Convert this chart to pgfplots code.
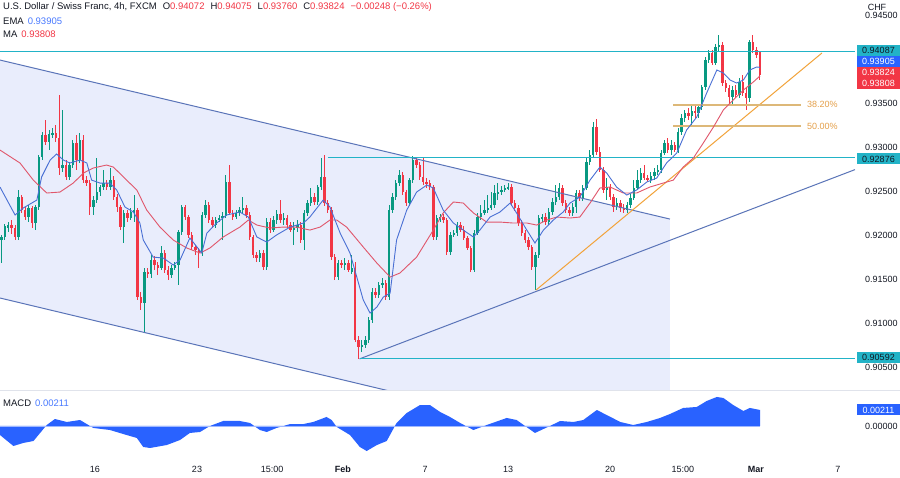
\documentclass[border=0pt]{standalone}
\usepackage{pgfplots}
\pgfplotsset{compat=1.18}
\usepackage{pgfplotstable}
\usepackage{fontspec}
\setmainfont{Liberation Sans}
\definecolor{cgreen}{HTML}{089981}
\definecolor{cred}{HTML}{F23645}
\definecolor{chline}{HTML}{5A74B8}
\definecolor{chfill}{HTML}{E9EDFC}
\definecolor{cteal}{HTML}{22B3C7}
\definecolor{corange}{HTML}{F2A33A}
\definecolor{cfib}{HTML}{DDB878}
\definecolor{cfibtext}{HTML}{E5A04A}
\definecolor{cema}{HTML}{4A70D4}
\definecolor{cma}{HTML}{E0566B}
\definecolor{cblue}{HTML}{2962FF}
\definecolor{ctext}{HTML}{131722}
\definecolor{csep}{HTML}{E0E3EB}
\newcommand\ff{\fontsize{9bp}{10.5bp}\selectfont}
\newcommand\fh{\fontsize{9.5bp}{11bp}\selectfont}
\pgfplotsset{candle/.style={only marks, mark=*, mark size=0pt, mark options={draw=none, fill=none}, forget plot}}

\pgfplotstableread{
k o h l c
0 0.91943 0.92000 0.91681 0.91977
1 0.91977 0.92125 0.91943 0.92102
2 0.92079 0.92147 0.92034 0.92113
3 0.92113 0.92170 0.92011 0.92079
4 0.92079 0.92113 0.91943 0.91977
5 0.91977 0.92511 0.91943 0.92431
6 0.92431 0.92454 0.92250 0.92284
7 0.92284 0.92318 0.92170 0.92204
8 0.92204 0.92341 0.92147 0.92307
9 0.92307 0.92329 0.92079 0.92136
10 0.92136 0.92341 0.92056 0.92318
11 0.92318 0.92909 0.92284 0.92886
12 0.92886 0.93170 0.92852 0.93136
13 0.93136 0.93306 0.93022 0.93057
14 0.93057 0.93193 0.92965 0.93148
15 0.93136 0.93216 0.93102 0.93159
16 0.93159 0.93250 0.93057 0.93102
17 0.93102 0.93591 0.92681 0.92761
18 0.92761 0.93420 0.92715 0.92795
19 0.92795 0.92852 0.92624 0.92659
20 0.92659 0.92829 0.92624 0.92795
21 0.92795 0.93079 0.92761 0.93045
22 0.93045 0.93136 0.92738 0.92852
23 0.92852 0.93159 0.92818 0.93079
24 0.93079 0.93136 0.92590 0.92624
25 0.92624 0.92670 0.92556 0.92590
26 0.92590 0.92624 0.92227 0.92318
27 0.92318 0.92443 0.92227 0.92397
28 0.92397 0.92875 0.92363 0.92488
29 0.92488 0.92568 0.92443 0.92545
30 0.92545 0.92738 0.92511 0.92590
31 0.92590 0.92624 0.92511 0.92545
32 0.92545 0.92761 0.92511 0.92624
33 0.92624 0.92670 0.92397 0.92431
34 0.92431 0.92465 0.92261 0.92318
35 0.92318 0.92341 0.92056 0.92090
36 0.92090 0.92284 0.91909 0.92250
37 0.92250 0.92284 0.92147 0.92193
38 0.92193 0.92307 0.92170 0.92261
39 0.92261 0.92454 0.92147 0.92284
40 0.92284 0.92307 0.91261 0.91295
41 0.91295 0.91352 0.91147 0.91227
42 0.91227 0.91625 0.90886 0.91579
43 0.91579 0.91625 0.91511 0.91556
44 0.91556 0.91772 0.91511 0.91715
45 0.91715 0.91761 0.91602 0.91659
46 0.91659 0.91693 0.91545 0.91625
47 0.91625 0.91874 0.91602 0.91795
48 0.91795 0.91829 0.91568 0.91602
49 0.91602 0.91647 0.91488 0.91545
50 0.91545 0.91659 0.91511 0.91625
51 0.91625 0.91693 0.91602 0.91659
52 0.91659 0.92056 0.91431 0.92034
53 0.92034 0.92341 0.92000 0.92318
54 0.92318 0.92341 0.92170 0.92204
55 0.92204 0.92227 0.91966 0.92000
56 0.92000 0.92034 0.91829 0.91863
57 0.91863 0.91886 0.91772 0.91829
58 0.91829 0.91852 0.91625 0.91795
59 0.91795 0.92261 0.91761 0.92227
60 0.92227 0.92397 0.92193 0.92341
61 0.92341 0.92375 0.92136 0.92170
62 0.92170 0.92204 0.92079 0.92113
63 0.92113 0.92204 0.92079 0.92170
64 0.92170 0.92227 0.92147 0.92193
65 0.92193 0.92261 0.91943 0.92215
66 0.92215 0.92681 0.92193 0.92602
67 0.92602 0.92795 0.92227 0.92250
68 0.92250 0.92284 0.92170 0.92204
69 0.92204 0.92284 0.92181 0.92250
70 0.92250 0.92318 0.92215 0.92284
71 0.92284 0.92431 0.92250 0.92307
72 0.92307 0.92341 0.92193 0.92227
73 0.92227 0.92261 0.91943 0.91977
74 0.91977 0.92000 0.91738 0.91772
75 0.91772 0.91806 0.91693 0.91738
76 0.91738 0.91829 0.91693 0.91795
77 0.91795 0.91829 0.91602 0.91636
78 0.91636 0.92193 0.91602 0.92147
79 0.92147 0.92193 0.92022 0.92056
80 0.92056 0.92215 0.92034 0.92170
81 0.92170 0.92284 0.92125 0.92238
82 0.92238 0.92397 0.92136 0.92170
83 0.92170 0.92250 0.92113 0.92193
84 0.92193 0.92227 0.92079 0.92113
85 0.92113 0.92147 0.92034 0.92056
86 0.92056 0.92147 0.91886 0.92079
87 0.92079 0.92170 0.92034 0.92113
88 0.92113 0.92147 0.91909 0.91943
89 0.91943 0.92284 0.91829 0.92250
90 0.92250 0.92397 0.92215 0.92363
91 0.92363 0.92534 0.92329 0.92431
92 0.92431 0.92477 0.92341 0.92375
93 0.92375 0.92568 0.92341 0.92545
94 0.92545 0.92875 0.92511 0.92659
95 0.92659 0.92909 0.92329 0.92363
96 0.92363 0.92397 0.92250 0.92284
97 0.92284 0.92318 0.91715 0.91749
98 0.91749 0.91784 0.91488 0.91522
99 0.91522 0.91715 0.91488 0.91681
100 0.91681 0.91715 0.91625 0.91659
101 0.91659 0.91738 0.91602 0.91681
102 0.91681 0.91715 0.91579 0.91602
103 0.91579 0.91772 0.91556 0.91625
104 0.91625 0.91693 0.90784 0.90806
105 0.90806 0.90852 0.90592 0.90727
106 0.90727 0.90806 0.90670 0.90749
107 0.90749 0.90852 0.90715 0.90806
108 0.90806 0.91068 0.90772 0.91033
109 0.91033 0.91397 0.90999 0.91352
110 0.91352 0.91397 0.91284 0.91318
111 0.91318 0.91465 0.91284 0.91431
112 0.91431 0.91511 0.91397 0.91454
113 0.91454 0.91488 0.91261 0.91295
114 0.91295 0.92341 0.91261 0.92284
115 0.92284 0.92477 0.92250 0.92431
116 0.92431 0.92624 0.92397 0.92590
117 0.92590 0.92738 0.92556 0.92681
118 0.92681 0.92715 0.92454 0.92488
119 0.92488 0.92511 0.92329 0.92363
120 0.92363 0.92647 0.92329 0.92624
121 0.92624 0.92897 0.92590 0.92852
122 0.92852 0.92886 0.92761 0.92795
123 0.92795 0.92829 0.92624 0.92659
124 0.92659 0.92886 0.92568 0.92602
125 0.92602 0.92647 0.92534 0.92590
126 0.92590 0.92624 0.92511 0.92545
127 0.92545 0.92568 0.91943 0.91977
128 0.91977 0.92227 0.91943 0.92193
129 0.92193 0.92238 0.92147 0.92204
130 0.92204 0.92238 0.92136 0.92170
131 0.92170 0.92193 0.91772 0.91806
132 0.91806 0.92034 0.91772 0.92000
133 0.92000 0.92056 0.91977 0.92022
134 0.92022 0.92147 0.91988 0.92113
135 0.92113 0.92147 0.92034 0.92056
136 0.92056 0.92102 0.91943 0.91966
137 0.91966 0.91988 0.91829 0.91852
138 0.91852 0.91874 0.91579 0.91602
139 0.91602 0.92056 0.91579 0.92022
140 0.92022 0.92250 0.92000 0.92204
141 0.92204 0.92341 0.92170 0.92250
142 0.92250 0.92397 0.92227 0.92284
143 0.92284 0.92454 0.92250 0.92307
144 0.92307 0.92488 0.92284 0.92341
145 0.92341 0.92568 0.92307 0.92477
146 0.92477 0.92590 0.92397 0.92488
147 0.92488 0.92556 0.92454 0.92511
148 0.92511 0.92568 0.92488 0.92534
149 0.92534 0.92590 0.92511 0.92545
150 0.92545 0.92579 0.92329 0.92363
151 0.92363 0.92397 0.92272 0.92307
152 0.92307 0.92341 0.92102 0.92136
153 0.92136 0.92170 0.91988 0.92022
154 0.92022 0.92056 0.91909 0.91943
155 0.91943 0.91977 0.91829 0.91863
156 0.91863 0.91886 0.91602 0.91636
157 0.91636 0.91806 0.91374 0.91772
158 0.91772 0.92227 0.91738 0.92193
159 0.92193 0.92238 0.92147 0.92204
160 0.92204 0.92250 0.92113 0.92147
161 0.92147 0.92307 0.92113 0.92261
162 0.92261 0.92420 0.92227 0.92375
163 0.92375 0.92568 0.92341 0.92431
164 0.92431 0.92590 0.92397 0.92534
165 0.92534 0.92568 0.92329 0.92363
166 0.92363 0.92397 0.92250 0.92284
167 0.92284 0.92318 0.92215 0.92250
168 0.92250 0.92363 0.92215 0.92318
169 0.92318 0.92511 0.92250 0.92477
170 0.92477 0.92511 0.92386 0.92420
171 0.92420 0.92568 0.92386 0.92534
172 0.92534 0.92875 0.92511 0.92829
173 0.92829 0.92965 0.92795 0.92909
174 0.92909 0.93284 0.92875 0.93227
175 0.93227 0.93318 0.92909 0.92943
176 0.92943 0.93000 0.92715 0.92738
177 0.92738 0.92772 0.92477 0.92511
178 0.92511 0.92647 0.92397 0.92545
179 0.92545 0.92579 0.92397 0.92431
180 0.92431 0.92465 0.92261 0.92318
181 0.92318 0.92420 0.92284 0.92363
182 0.92363 0.92397 0.92261 0.92307
183 0.92307 0.92352 0.92250 0.92284
184 0.92284 0.92375 0.92250 0.92341
185 0.92341 0.92465 0.92307 0.92420
186 0.92420 0.92624 0.92397 0.92534
187 0.92534 0.92738 0.92511 0.92624
188 0.92624 0.92761 0.92590 0.92704
189 0.92704 0.92795 0.92624 0.92647
190 0.92647 0.92681 0.92602 0.92624
191 0.92624 0.92715 0.92590 0.92670
192 0.92670 0.92761 0.92624 0.92715
193 0.92715 0.92795 0.92681 0.92738
194 0.92738 0.92965 0.92704 0.92931
195 0.92931 0.93079 0.92909 0.93045
196 0.93045 0.93102 0.92931 0.92965
197 0.92965 0.93079 0.92909 0.93022
198 0.93022 0.93057 0.92943 0.92965
199 0.92965 0.93216 0.92931 0.93170
200 0.93170 0.93375 0.93136 0.93329
201 0.93329 0.93420 0.93284 0.93386
202 0.93386 0.93443 0.93306 0.93352
203 0.93352 0.93477 0.93250 0.93409
204 0.93409 0.93466 0.93329 0.93386
205 0.93386 0.93488 0.93329 0.93454
206 0.93454 0.93704 0.93420 0.93681
207 0.93681 0.94022 0.93647 0.93988
208 0.93988 0.94102 0.93954 0.94068
209 0.94068 0.94102 0.93931 0.93954
210 0.93954 0.94170 0.93931 0.94136
211 0.94136 0.94272 0.94079 0.94159
212 0.94159 0.94193 0.93693 0.93727
213 0.93727 0.93761 0.93625 0.93670
214 0.93670 0.93704 0.93477 0.93568
215 0.93568 0.93693 0.93477 0.93647
216 0.93647 0.93704 0.93556 0.93591
217 0.93591 0.93784 0.93556 0.93738
218 0.93738 0.93818 0.93579 0.93613
219 0.93613 0.93670 0.93420 0.93556
220 0.93556 0.94215 0.93511 0.94193
221 0.94193 0.94272 0.94068 0.94102
222 0.94102 0.94136 0.94011 0.94045
223 0.94072 0.94075 0.93760 0.93824
}\candles

\begin{document}
\begin{tikzpicture}
\fill[white] (0,0) rectangle (900bp,478bp);
\useasboundingbox (0,0) rectangle (900bp,478bp);

\begin{axis}[at={(0bp,88bp)}, anchor=south west, scale only axis,
  width=855bp, height=390bp,
  xmin=-0.441, xmax=251.03, ymin=0.902386, ymax=0.946705,
  axis x line*=bottom, axis y line*=right, axis line style={draw=none},
  major tick length=0pt, tick style={draw=none},
  scaled x ticks=false, scaled y ticks=false,
  xtick=\empty,
  ytick={0.905,0.91,0.915,0.92,0.925,0.93,0.935,0.945},
  yticklabels={0.90500,0.91000,0.91500,0.92000,0.92500,0.93000,0.93500,0.94500},
  yticklabel style={font=\ff, text=ctext, anchor=west, inner sep=0pt, xshift=10bp},
  /pgf/number format/assume math mode=true]
% channel fill
\addplot[fill=chfill, draw=none, forget plot] coordinates {(-0.441,0.93988) (196.6,0.92181) (196.6,0.89466) (-0.441,0.91284)} -- cycle;
% candles
\addplot[candle, error bars/.cd, y dir=both, y explicit, error mark=none, error bar style={draw=cgreen, line width=1bp}]
  table[x=k, y expr={\thisrow{c}>=\thisrow{o} ? (\thisrow{h}+\thisrow{l})/2 : nan}, y error expr={(\thisrow{h}-\thisrow{l})/2}] {\candles};
\addplot[candle, error bars/.cd, y dir=both, y explicit, error mark=none, error bar style={draw=cred, line width=1bp}]
  table[x=k, y expr={\thisrow{c}<\thisrow{o} ? (\thisrow{h}+\thisrow{l})/2 : nan}, y error expr={(\thisrow{h}-\thisrow{l})/2}] {\candles};
\addplot[candle, error bars/.cd, y dir=both, y explicit, error mark=none, error bar style={draw=cgreen, line width=2.4bp}]
  table[x=k, y expr={\thisrow{c}>=\thisrow{o} ? (\thisrow{o}+\thisrow{c})/2 : nan}, y error expr={abs(\thisrow{c}-\thisrow{o})/2+0.00003}] {\candles};
\addplot[candle, error bars/.cd, y dir=both, y explicit, error mark=none, error bar style={draw=cred, line width=2.4bp}]
  table[x=k, y expr={\thisrow{c}<\thisrow{o} ? (\thisrow{o}+\thisrow{c})/2 : nan}, y error expr={abs(\thisrow{c}-\thisrow{o})/2+0.00003}] {\candles};
% channel lines
\addplot[draw=chline, line width=1bp, forget plot] coordinates {(-0.441,0.93988) (196.6,0.92181)};
\addplot[draw=chline, line width=1bp, forget plot] coordinates {(-0.441,0.91284) (196.6,0.89466)};
\addplot[draw=chline, line width=1bp, forget plot] coordinates {(105.3,0.90592) (251.03,0.92743)};
% horizontal levels
\addplot[draw=cteal, line width=1bp, forget plot] coordinates {(-0.441,0.94087) (251.03,0.94087)};
\addplot[draw=cteal, line width=1bp, forget plot] coordinates {(96,0.92876) (251.03,0.92876)};
\addplot[draw=cteal, line width=1bp, forget plot] coordinates {(105.3,0.90592) (251.03,0.90592)};
% orange trend line
\addplot[draw=corange, line width=1bp, forget plot] coordinates {(157.2,0.91374) (241.3,0.94068)};
% fib levels
\addplot[draw=cfib, line width=1.6bp, forget plot] coordinates {(197.5,0.93477) (235.1,0.93477)};
\addplot[draw=cfib, line width=1.6bp, forget plot] coordinates {(197.5,0.93238) (235.1,0.93238)};
% MA
\addplot[draw=cma, line width=0.9bp, forget plot] coordinates {
(-0.441,0.92965) (5.44,0.92818) (9.35,0.92624) (13.3,0.92477) (17.2,0.92488) (21.1,0.92590) (24.1,0.92704) (27.0,0.92761) (30.9,0.92795) (32.9,0.92772) (36.8,0.92624) (39.8,0.92511) (42.7,0.92284) (46.6,0.92090) (50.5,0.91943) (54.5,0.91852) (58.4,0.91795) (61.3,0.91852) (65.2,0.91977) (70.1,0.92090) (72.6,0.92170) (75.1,0.92113) (79.0,0.92079) (82.9,0.92090) (86.8,0.92090) (90.7,0.92056) (93.7,0.92090) (96.6,0.92170) (98.6,0.92170) (101.5,0.92090) (106.4,0.91863) (110.4,0.91681) (114.3,0.91522) (117.2,0.91568) (122.1,0.91749) (127.0,0.92056) (129.9,0.92250) (132.9,0.92375) (135.8,0.92363) (138.8,0.92250) (142.7,0.92147) (146.6,0.92147) (150.5,0.92136) (154.5,0.92136) (157.4,0.92113) (160.4,0.92170) (163.3,0.92204) (167.2,0.92193) (170.1,0.92204) (173.1,0.92363) (176.0,0.92534) (179.0,0.92545) (182.9,0.92477) (186.8,0.92477) (190.7,0.92545) (194.6,0.92590) (197.6,0.92624) (200.5,0.92772) (203.5,0.92875) (206.4,0.93045) (209.4,0.93227) (212.3,0.93420) (215.2,0.93534) (218.2,0.93647) (221.1,0.93738) (223.1,0.93808)};
% EMA
\addplot[draw=cema, line width=0.9bp, forget plot] coordinates {
(-0.441,0.92545) (4.0,0.92227) (6.4,0.92307) (10.4,0.92397) (11.8,0.92659) (14.3,0.92852) (16.2,0.92920) (18.2,0.92852) (20.1,0.92818) (23.1,0.92852) (25.1,0.92818) (26.5,0.92624) (29.0,0.92590) (31.9,0.92590) (33.9,0.92511) (36.3,0.92318) (38.8,0.92261) (40.7,0.92136) (41.7,0.91943) (44.6,0.91749) (47.6,0.91738) (50.5,0.91659) (52.5,0.91715) (55.4,0.91966) (58.9,0.91795) (60.4,0.92022) (63.3,0.92136) (66.2,0.92227) (70.1,0.92261) (72.6,0.92204) (75.1,0.91977) (78.0,0.91920) (80.9,0.92000) (84.9,0.92090) (88.8,0.92136) (90.7,0.92204) (94.6,0.92397) (96.6,0.92318) (99.6,0.92022) (102.5,0.91795) (104.5,0.91522) (106.4,0.91261) (108.4,0.91113) (110.4,0.91181) (112.3,0.91295) (114.3,0.91340) (116.2,0.91943) (119.2,0.92284) (122.1,0.92488) (125.1,0.92568) (127.0,0.92534) (129.9,0.92284) (132.9,0.92136) (135.8,0.92056) (138.8,0.91977) (140.7,0.92056) (143.7,0.92204) (146.6,0.92261) (149.6,0.92363) (151.5,0.92250) (154.5,0.92056) (156.9,0.91909) (159.4,0.92056) (162.3,0.92170) (165.2,0.92261) (167.2,0.92363) (170.1,0.92431) (173.1,0.92624) (176.0,0.92772) (178.0,0.92704) (180.9,0.92545) (183.9,0.92454) (186.8,0.92511) (189.8,0.92602) (192.7,0.92647) (195.6,0.92818) (198.6,0.92931) (201.5,0.93193) (204.5,0.93341) (207.4,0.93613) (210.4,0.93875) (212.3,0.93841) (214.3,0.93761) (216.2,0.93727) (218.2,0.93761) (220.1,0.93875) (222.1,0.93909) (223.1,0.93905)};
\end{axis}

\begin{axis}[at={(0bp,20bp)}, anchor=south west, scale only axis,
  width=855bp, height=67bp,
  xmin=-0.441, xmax=251.03, ymin=-0.004222, ymax=0.004617,
  axis x line*=bottom, axis y line*=right, axis line style={draw=none},
  major tick length=0pt, tick style={draw=none},
  scaled x ticks=false, scaled y ticks=false,
  ytick={0}, yticklabels={0.00000},
  yticklabel style={font=\ff, text=ctext, anchor=west, inner sep=0pt, xshift=10bp},
  xtick={27.5,57.5,79.6,100.4,124.6,149,179,200.4,221.9,246},
  xticklabels={16,23,15:00,\textbf{Feb},7,13,20,15:00,\textbf{Mar},7},
  xticklabel style={font=\ff, text=ctext, anchor=north, inner sep=0pt, yshift=-8bp},
  /pgf/number format/assume math mode=true]
\addplot[fill=cblue, draw=none, forget plot] coordinates {
(-0.441,0) (-0.441,-0.00119) (3.5,-0.00264) (6.4,-0.00224) (9.4,-0.00198) (13.3,0.00013) (15.7,0.00092) (19.2,0.00053) (23.1,0.00079) (27.0,-0.00026) (31.9,-0.00053) (36.8,-0.00119) (39.8,-0.00158) (41.7,-0.00277) (43.7,-0.00290) (48.6,-0.00251) (52.5,-0.00185) (55.4,-0.00092) (58.4,-0.00079) (61.3,0) (65.2,0.00066) (70.1,0.00066) (73.1,0.00040) (76.0,-0.00053) (78.0,-0.00079) (80.9,-0.00026) (84.9,0.00026) (88.8,0.00026) (91.7,0.00053) (95.6,0.00119) (97.1,0.00079) (98.6,-0.00013) (102.5,-0.00119) (105.4,-0.00277) (107.4,-0.00330) (110.4,-0.00251) (113.3,-0.00198) (116.2,0.00040) (119.2,0.00172) (123.1,0.00277) (126.0,0.00277) (129.0,0.00185) (131.9,0.00119) (134.9,0.00040) (138.8,-0.00053) (142.7,0.00013) (148.6,0.00106) (151.5,0.00079) (156.9,-0.00092) (161.3,0) (164.3,0.00066) (168.2,0.00053) (171.1,0.00079) (175.1,0.00211) (178.0,0.00145) (182.0,0.00053) (185.8,0.00013) (189.8,0.00053) (193.7,0.00106) (196.6,0.00158) (200.5,0.00238) (204.5,0.00251) (207.4,0.00330) (210.4,0.00383) (212.3,0.00370) (215.2,0.00277) (218.2,0.00198) (220.1,0.00238) (223.1,0.00211) (223.1,0)} -- cycle;
\addplot[draw=cblue!45, line width=0.6bp, forget plot] coordinates {(-0.441,0) (223.1,0)};
\end{axis}

\begin{scope}[x=1bp, y=-1bp, shift={(0bp,478bp)}]
\draw[csep, line width=1bp] (0,390.5) -- (900,390.5);
\node[anchor=west, font=\fh, text=ctext, inner sep=0pt] at (3,7.5) {U.S. Dollar / Swiss Franc, 4h, FXCM\hspace{6bp}O\textcolor{cred}{0.94072}\hspace{6bp}H\textcolor{cred}{0.94075}\hspace{6bp}L\textcolor{cred}{0.93760}\hspace{6bp}C\textcolor{cred}{0.93824}\hspace{6bp}\textcolor{cred}{−0.00248 (−0.26\%)}};
\node[anchor=west, font=\fh, text=ctext, inner sep=0pt] at (3,21.5) {EMA\hspace{4bp}\textcolor{cblue!85!white}{0.93905}};
\node[anchor=west, font=\fh, text=ctext, inner sep=0pt] at (3,34.5) {MA\hspace{4bp}\textcolor{cred}{0.93808}};
\node[anchor=west, font=\fh, text=ctext, inner sep=0pt] at (3,403) {MACD\hspace{4bp}\textcolor{cblue!85!white}{0.00211}};
\node[font=\ff, text=ctext, inner sep=0pt, fill=white, minimum width=40bp] at (877,7) {CHF};
\node[font=\ff, text=ctext, inner sep=0pt, fill=cteal, minimum width=43bp, minimum height=11bp] at (878.5,50.5) {0.94087};
\node[font=\ff, text=white, inner sep=0pt, fill=cblue, minimum width=43bp, minimum height=11bp] at (878.5,61.5) {0.93905};
\node[font=\ff, text=white, inner sep=0pt, fill=cred, minimum width=43bp, minimum height=11bp] at (878.5,72.5) {0.93824};
\node[font=\ff, text=white, inner sep=0pt, fill=cred, minimum width=43bp, minimum height=11bp] at (878.5,83.5) {0.93808};
\node[font=\ff, text=ctext, inner sep=0pt, fill=cteal, minimum width=43bp, minimum height=11bp] at (878.5,159) {0.92876};
\node[font=\ff, text=ctext, inner sep=0pt, fill=cteal, minimum width=43bp, minimum height=11bp] at (878.5,357.5) {0.90592};
\node[font=\ff, text=white, inner sep=0pt, fill=cblue, minimum width=43bp, minimum height=11bp] at (878.5,410) {0.00211};
\node[anchor=west, font=\ff, text=cfibtext, inner sep=0pt] at (807,104.5) {38.20\%};
\node[anchor=west, font=\ff, text=cfibtext, inner sep=0pt] at (807,126) {50.00\%};
\end{scope}
\end{tikzpicture}
\end{document}
